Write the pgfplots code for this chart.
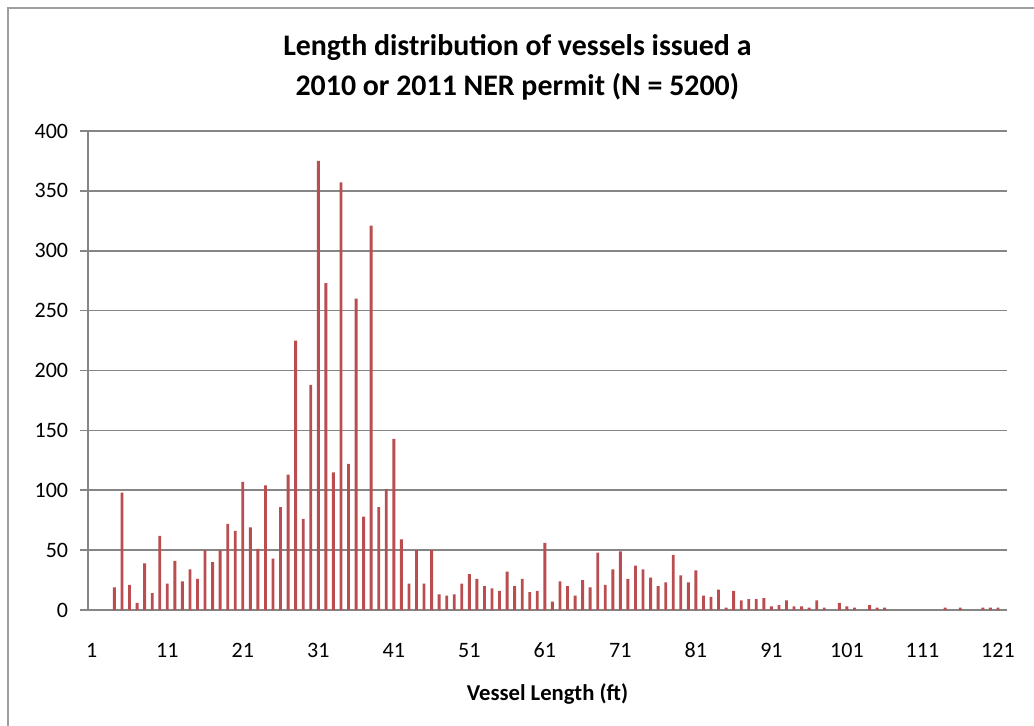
\documentclass[border=0pt]{standalone}
\usepackage{pgfplots}
\pgfplotsset{compat=1.18}
\usepackage{fontspec}
\setmainfont{Carlito}
\definecolor{barred}{RGB}{185,77,80}
\definecolor{gridgray}{RGB}{134,134,134}
\begin{document}
\begin{tikzpicture}
\path[use as bounding box] (0pt,0pt) rectangle (775.5pt,543.75pt);
\draw[gridgray!80, line width=1.2pt] (6pt,-5pt) -- (6pt,537.75pt) -- (790pt,537.75pt);
\node[font=\bfseries\fontsize{22.4}{30}\selectfont, align=center] at (388pt,493.5pt) {Length distribution of vessels issued a\\2010 or 2011 NER permit (N = 5200)};
\begin{axis}[
  at={(66pt,86.25pt)}, anchor=south west,
  width=689.25pt, height=359.25pt, scale only axis,
  xmin=0.5, xmax=122.2, ymin=0, ymax=400,
  enlargelimits=false,
  axis x line=bottom, axis y line=left,
  axis line style={-, gridgray, line width=1.2pt},
  xtick={1,11,...,121},
  major x tick style={draw=none},
  extra x ticks={0.5,10.5,...,120.5},
  extra x tick labels={},
  extra x tick style={major tick length=6pt, tick style={gridgray, line width=1.2pt}, grid=none},
  ytick={0,50,...,400},
  tick align=outside,
  major tick length=6pt,
  ytick style={gridgray, line width=1.2pt},
  ymajorgrids,
  grid style={gridgray, line width=1.2pt},
  /pgf/number format/assume math mode=true,
  /pgf/number format/1000 sep={},
  tick label style={font=\fontsize{16.5}{19}\selectfont},
  xticklabel style={anchor=center, yshift=-24.25pt},
  yticklabel style={anchor=east, inner sep=0pt, xshift=-8.75pt},
  xlabel={Vessel Length (ft)},
  xlabel style={font=\bfseries\fontsize{17}{20}\selectfont, at={(axis description cs:0.5,0)}, anchor=center, yshift=-63pt},
  ybar, bar width=0.38, bar shift=0pt,
]
\addplot[fill=barred, draw=none] coordinates {
(4,19) (5,98) (6,21) (7,6) (8,39) (9,14) (10,62) (11,22) (12,41) (13,24)
(14,34) (15,26) (16,50) (17,40) (18,50) (19,72) (20,66) (21,107) (22,69) (23,51)
(24,104) (25,43) (26,86) (27,113) (28,225) (29,76) (30,188) (31,375) (32,273) (33,115)
(34,357) (35,122) (36,260) (37,78) (38,321) (39,86) (40,101) (41,143) (42,59) (43,22)
(44,50) (45,22) (46,50) (47,13) (48,12) (49,13) (50,22) (51,30) (52,26) (53,20)
(54,18) (55,16) (56,32) (57,20) (58,26) (59,15) (60,16) (61,56) (62,7) (63,24)
(64,20) (65,12) (66,25) (67,19) (68,48) (69,21) (70,34) (71,49) (72,26) (73,37)
(74,34) (75,27) (76,20) (77,23) (78,46) (79,29) (80,23) (81,33) (82,12) (83,11)
(84,17) (85,2) (86,16) (87,8) (88,9) (89,9) (90,10) (91,3) (92,4) (93,8)
(94,3) (95,3) (96,2) (97,8) (98,2) (100,6) (101,3) (102,2) (104,4) (105,2)
(106,2) (114,2) (116,2) (119,2) (120,2) (121,2)
};
\end{axis}
\end{tikzpicture}
\end{document}
